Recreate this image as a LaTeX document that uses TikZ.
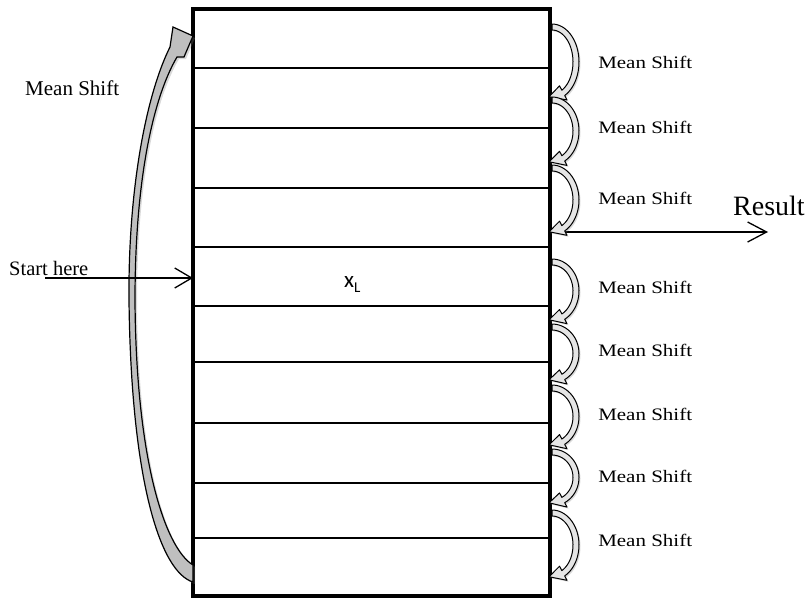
\documentclass[tikz,border=0pt]{standalone}
\usepackage{fontspec}
\setmainfont{Liberation Serif}
\newfontfamily\calibrifont{Carlito}
\usetikzlibrary{arrows.meta,shadows}

% one curved "mean shift" loop on the right edge, from y=#1 (top) to y=#2 (tip)
\newcommand\shiftloop[2]{%
  \pgfmathsetmacro\lc{(#1+#2)/2}%
  \pgfmathsetmacro\lr{(#2-#1)/2}%
  \path[loopshape]
    plot[domain=90:-62,samples=30] ({552+27*cos(\x)},{\lc-(\lr+3)*sin(\x)})
    -- ({552+32*cos(-62)},{\lc-(\lr+8)*sin(-62)})
    -- ({552+24*cos(-97)},{\lc-\lr*sin(-97)})
    -- ({552+16*cos(-62)},{\lc-(\lr-8)*sin(-62)})
    -- plot[domain=-62:90,samples=30] ({552+21*cos(\x)},{\lc-(\lr-3)*sin(\x)})
    -- cycle;}

\begin{document}
\begin{tikzpicture}[x=1pt,y=-1pt,
  frame/.style={draw,line width=4pt,inner sep=0pt,outer sep=0pt},
  rowline/.style={line width=1.3pt},
  arrowline/.style={line width=1.3pt},
  txt/.style={inner sep=0pt,anchor=west,font=\fontsize{21}{24}\selectfont},
  shifttxt/.style={inner sep=0pt,anchor=west,xscale=1.2,font=\fontsize{17.5}{20}\selectfont},
  loopshape/.style={draw=black,line width=1pt,fill=black!10,line join=round,
    drop shadow={opacity=0.3,shadow xshift=1.5pt,shadow yshift=-1.5pt}},
  bigshape/.style={draw=black,line width=1.2pt,fill=black!25,line join=miter,
    drop shadow={opacity=0.3,shadow xshift=2pt,shadow yshift=-2pt}}]

\useasboundingbox (0,0) rectangle (810,602);

% the stack of rows
\node[frame,minimum width=357pt,minimum height=587pt,anchor=north west] (box) at (193,9) {};
\foreach \yy in {68,128,188,247,306,362,423,483,538}
  \draw[rowline] (box.west |- 0,\yy) -- (box.east |- 0,\yy);

\node[anchor=base west,inner sep=0pt] (xl) at (344,287)
  {\calibrifont\fontsize{23}{24}\selectfont x\raisebox{-5pt}{\fontsize{15}{16}\selectfont L}};

% big return arrow on the left
\path[bigshape]
  (193,582) .. controls (160,572) and (131,480) .. (129,300)
  .. controls (128,190) and (146,95) .. (170,47)
  -- (173,27) -- (193,36) -- (184,57) -- (177,57)
  .. controls (153,98) and (135,180) .. (135,300)
  .. controls (136,460) and (165,548) .. (193,565) -- cycle;
\node[txt] (lshift) at (25,88) {Mean Shift};

% entry arrow
\coordinate (start) at (45,278);
\node[txt,font=\fontsize{20.5}{24}\selectfont] (starttxt) at (9,268) {Start here};
\draw[arrowline,-{Straight Barb[length=17pt,width=20pt,line width=1.3pt]}] (start) -- (box.west |- start);

% result arrow
\coordinate (res) at (768,232);
\draw[arrowline,-{Straight Barb[length=19pt,width=20pt,line width=1.3pt]}] (box.east |- res) -- (res);
\node[txt,font=\fontsize{28}{32}\selectfont] (restxt) at (733,205.5) {Result};

% mean shift loops on the right
\shiftloop{27}{97}
\shiftloop{100}{162}
\shiftloop{168}{232}
\shiftloop{262}{320}
\shiftloop{327}{380}
\shiftloop{388}{445}
\shiftloop{452}{503}
\shiftloop{513}{577}

\foreach \yy [count=\i] in {62.5,127.5,198,287,350,414,476,540}
  \node[shifttxt] (ms\i) at (598,\yy) {Mean Shift};

\end{tikzpicture}
\end{document}
